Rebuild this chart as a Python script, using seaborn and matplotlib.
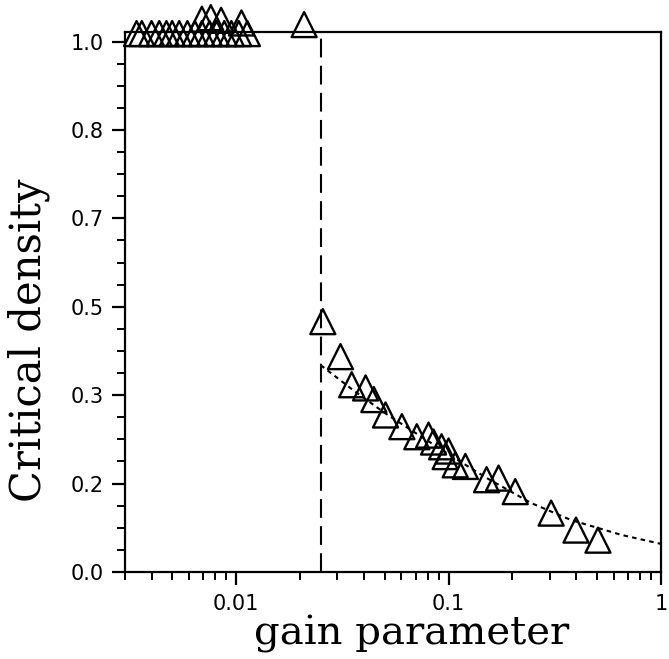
import numpy as np
import pandas as pd
import matplotlib
matplotlib.use("Agg")
import matplotlib.pyplot as plt
from matplotlib.ticker import FixedLocator, FixedFormatter, NullFormatter, LogLocator
import seaborn as sns

# Critical density measured at each gain parameter value
gain = [0.0034, 0.0036, 0.0040, 0.00435, 0.0047, 0.0050, 0.0054, 0.0059,
        0.0064, 0.0069, 0.0075, 0.0081, 0.0088, 0.0095, 0.0103, 0.0113,
        0.0069, 0.0076, 0.0085, 0.0106, 0.0209,
        0.0256, 0.031, 0.035, 0.0407, 0.0445, 0.0505, 0.0603, 0.0709,
        0.0805, 0.085, 0.0927, 0.0964, 0.100, 0.1075, 0.120, 0.151,
        0.172, 0.206, 0.304, 0.398, 0.505]
density = [1.015, 1.015, 1.015, 1.015, 1.015, 1.015, 1.015, 1.015,
           1.015, 1.015, 1.015, 1.015, 1.015, 1.015, 1.015, 1.015,
           1.042, 1.045, 1.040, 1.035, 1.032,
           0.472, 0.406, 0.353, 0.347, 0.325, 0.296, 0.274, 0.255,
           0.258, 0.245, 0.236, 0.2175, 0.228, 0.202, 0.199, 0.174,
           0.177, 0.1515, 0.111, 0.079, 0.060]

# Fitted curve through the low-density branch
fit_gain = [0.025, 0.035, 0.05, 0.07, 0.10, 0.15, 0.245, 0.377, 0.65, 1.0]
fit_density = [0.390, 0.345, 0.300, 0.262, 0.222, 0.178, 0.130, 0.098, 0.070, 0.053]

# Transition gain
threshold_gain = 0.025

# Axis ticks
x_ticks = [0.01, 0.1, 1]
x_tick_labels = ["0.01", "0.1", "1"]
y_ticks = [0, 1/6, 2/6, 3/6, 4/6, 5/6, 1]
y_tick_labels = ["0.0", "0.2", "0.3", "0.5", "0.7", "0.8", "1.0"]

sns.set_style("ticks")
plt.rcParams["font.family"] = ["DejaVu Sans"]
plt.rcParams["text.color"] = "black"
plt.rcParams["axes.labelcolor"] = "black"
plt.rcParams["xtick.color"] = "black"
plt.rcParams["ytick.color"] = "black"

W, H = 669, 659
fig = plt.figure(figsize=(W / 100, H / 100), dpi=100)
fig.patch.set_facecolor("white")
ax = fig.add_axes([125 / W, 1 - 572 / H, (661 - 125) / W, (572 - 32) / H])

pts = pd.DataFrame({"gain": gain, "density": density})
fit = pd.DataFrame({"gain": fit_gain, "density": fit_density})

sns.lineplot(data=fit, x="gain", y="density", ax=ax, color="black",
             linewidth=1.5, linestyle=(0, (2.2, 2.0)), sort=False)
ax.axvline(threshold_gain, color="black", linewidth=1.5,
           linestyle=(0, (9, 4)))

sns.scatterplot(data=pts, x="gain", y="density", ax=ax, marker="^",
                s=18 ** 2, color="black", linewidth=1.7, clip_on=False,
                zorder=5)
coll = ax.collections[-1]
coll.set_facecolor("none")
coll.set_edgecolor("black")

ax.set_xscale("log")
ax.set_xlim(0.003, 1.0)
ax.set_ylim(0, 1.018)

ax.xaxis.set_major_locator(FixedLocator(x_ticks))
ax.xaxis.set_major_formatter(FixedFormatter(x_tick_labels))
ax.xaxis.set_minor_locator(LogLocator(base=10, subs=np.arange(2, 10)))
ax.xaxis.set_minor_formatter(NullFormatter())

ax.yaxis.set_major_locator(FixedLocator(y_ticks))
ax.yaxis.set_major_formatter(FixedFormatter(y_tick_labels))
ax.yaxis.set_minor_locator(FixedLocator([k / 24 for k in range(25)]))

for s in ax.spines.values():
    s.set_linewidth(1.6)
    s.set_color("black")

ax.tick_params(which="major", direction="out", length=9.5, width=1.6,
               labelsize=15, pad=6, colors="black")
ax.tick_params(which="minor", direction="out", length=5.5, width=1.4,
               colors="black")
ax.tick_params(top=False, right=False, which="both")

ax.set_xlabel("gain parameter", fontsize=29, family="DejaVu Serif",
              color="black")
ax.set_ylabel("Critical density", fontsize=30, family="DejaVu Serif",
              color="black")
ax.xaxis.set_label_coords(0.535, -0.08)
ax.yaxis.set_label_coords(-0.14, 0.43)

fig.savefig("out.png", dpi=100, facecolor="white")
